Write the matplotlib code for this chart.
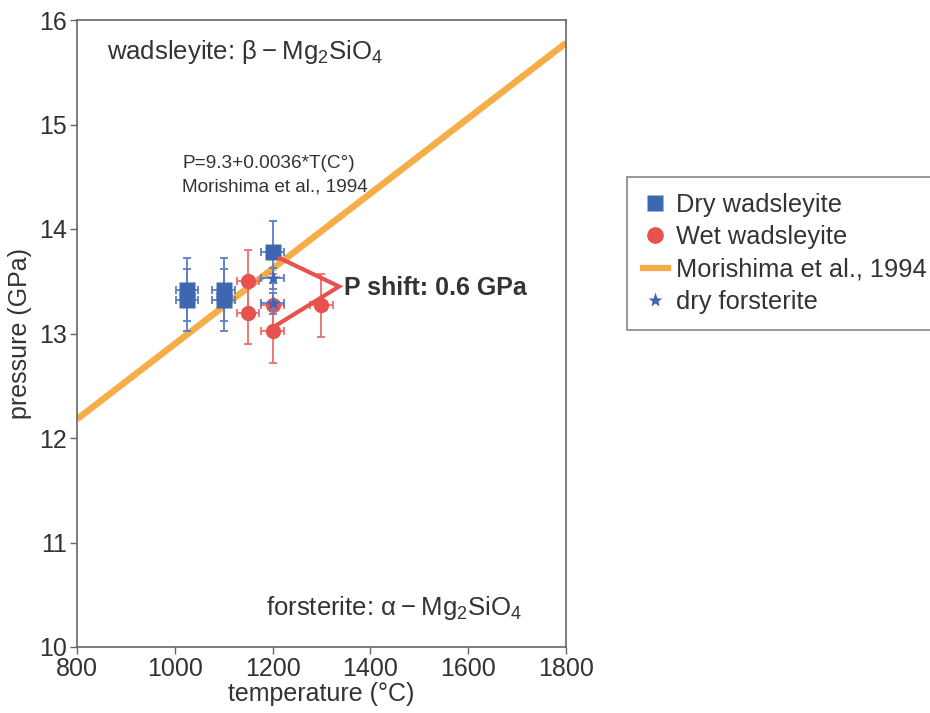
import matplotlib
matplotlib.use('Agg')
import matplotlib.pyplot as plt
from matplotlib.lines import Line2D

plt.rcParams['font.family'] = ['Liberation Sans', 'DejaVu Sans']
plt.rcParams['mathtext.fontset'] = 'custom'
plt.rcParams['mathtext.rm'] = 'Liberation Sans'
plt.rcParams['mathtext.it'] = 'Liberation Sans:italic'
plt.rcParams['mathtext.default'] = 'regular'

# dry wadsleyite (two overlapping runs at 1025 and 1100 C)
dry_T = [1025, 1025, 1100, 1100, 1200]
dry_P = [13.42, 13.32, 13.42, 13.32, 13.78]
dry_Terr = [23, 23, 23, 23, 23]
dry_Perr = [0.3, 0.3, 0.3, 0.3, 0.3]

# wet wadsleyite
wet_T = [1150, 1150, 1200, 1200, 1300]
wet_P = [13.50, 13.20, 13.27, 13.02, 13.27]
wet_Terr = [23, 23, 23, 23, 23]
wet_Perr = [0.3, 0.3, 0.3, 0.3, 0.3]

# dry forsterite
fo_T = [1200, 1200]
fo_P = [13.53, 13.29]
fo_Terr = [23, 23]
fo_Perr = [0.1, 0.1]

# Morishima et al. 1994 boundary, endpoints
mor_T = [800, 1800]
mor_P = [12.18, 15.78]

# P shift marker
shift_T = [1215, 1336, 1208]
shift_P = [13.72, 13.45, 13.08]

blue = '#3f66b1'
blue_err = '#5b7fc4'
red = '#e8524e'
red_err = '#ec6d69'
orange = '#f5ad47'
txt = '#333333'
gray = '#666666'

fig = plt.figure(figsize=(9.3, 7.13), dpi=100)
ax = fig.add_axes([77 / 930, 1 - 647 / 713, (566 - 77) / 930, (647 - 20) / 713])

ax.plot(mor_T, mor_P, color=orange, lw=4.7, solid_capstyle='butt', zorder=2)

ax.errorbar(dry_T, dry_P, xerr=dry_Terr, yerr=dry_Perr, fmt='none',
            ecolor=blue_err, elinewidth=1.3, capsize=3, capthick=1.3, zorder=3)
ax.errorbar(wet_T, wet_P, xerr=wet_Terr, yerr=wet_Perr, fmt='none',
            ecolor=red_err, elinewidth=1.3, capsize=3, capthick=1.3, zorder=3)
ax.plot(wet_T, wet_P, 'o', color=red, ms=11, mec='none', zorder=4)
ax.plot(dry_T, dry_P, 's', color=blue, ms=11.5, mec='none', zorder=5)
ax.errorbar(fo_T, fo_P, xerr=fo_Terr, yerr=fo_Perr, fmt='none',
            ecolor=blue_err, elinewidth=1.3, capsize=3, capthick=1.3, zorder=5)
ax.plot(fo_T, fo_P, '*', color=blue, ms=11, mec='none', zorder=6)

ax.plot(shift_T, shift_P, color=red, lw=3, solid_joinstyle='miter', zorder=6)
ax.text(1345, 13.44, 'P shift: 0.6 GPa', fontsize=18, fontweight='bold',
        color=txt, va='center', ha='left')

ax.text(861, 15.69, 'wadsleyite: β\u2009\u2212\u2009Mg$_2$SiO$_4$', fontsize=18.5,
        color=txt, va='center')
ax.text(1186, 10.37, 'forsterite: α\u2009\u2212\u2009Mg$_2$SiO$_4$', fontsize=18.5,
        color=txt, va='center')
ax.text(1015, 14.63, 'P=9.3+0.0036*T(C°)', fontsize=13.7, color=txt,
        va='center')
ax.text(1015, 14.40, 'Morishima et al., 1994', fontsize=13.7, color=txt,
        va='center')

ax.set_xlim(800, 1800)
ax.set_ylim(10, 16)
ax.set_xticks([800, 1000, 1200, 1400, 1600, 1800])
ax.set_yticks([10, 11, 12, 13, 14, 15, 16])
ax.set_xlabel('temperature (°C)', fontsize=18, color=txt, labelpad=1)
ax.set_ylabel('pressure (GPa)', fontsize=18, color=txt, labelpad=5)
ax.tick_params(direction='out', length=5, width=1, color=gray,
               labelsize=18, labelcolor=txt, pad=2)
for s in ax.spines.values():
    s.set_color(gray)
    s.set_linewidth(1.2)

handles = [
    Line2D([], [], ls='none', marker='s', color=blue, ms=12, mec='none'),
    Line2D([], [], ls='none', marker='o', color=red, ms=12, mec='none'),
    Line2D([], [], color=orange, lw=4.5),
    Line2D([], [], ls='none', marker='*', color=blue, ms=11, mec='none'),
]
labels = ['Dry wadsleyite', 'Wet wadsleyite', 'Morishima et al., 1994',
          'dry forsterite']
leg = fig.legend(handles, labels, loc='upper left',
                 bbox_to_anchor=(627 / 930, 1 - 177 / 713), fontsize=18.3,
                 frameon=True, fancybox=False, handlelength=1.0,
                 handletextpad=0.3, labelspacing=0.33, borderpad=0.62,
                 borderaxespad=0)
leg.get_frame().set_edgecolor(gray)
leg.get_frame().set_linewidth(1.2)
for t in leg.get_texts():
    t.set_color(txt)

fig.savefig('out.png', dpi=100)
